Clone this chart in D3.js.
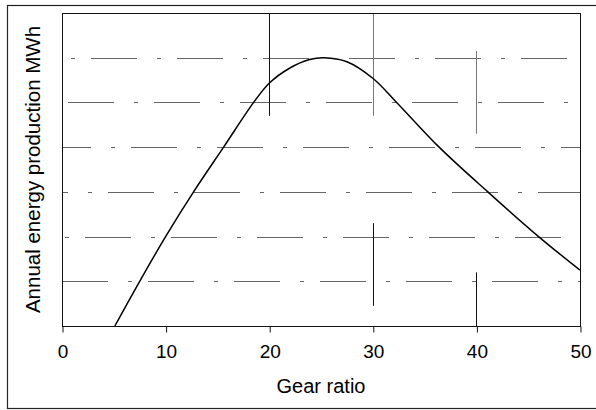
<!DOCTYPE html>
<html>
<head>
<meta charset="utf-8">
<script src="https://cdn.jsdelivr.net/npm/d3@7/dist/d3.min.js"></script>
<style>
  html, body { margin: 0; padding: 0; background: #fff; }
  svg { display: block; }
  text { font-family: Arial, "Liberation Sans", sans-serif; fill: #000; }
</style>
</head>
<body>
<svg id="chart" width="596" height="410"></svg>
<script>
// ---- data ----
const gearRatio = [5.1, 7.5, 10, 12.7, 15.6, 18.5, 20, 22, 23.9, 25.3, 27.5, 30, 32.3, 36.4, 41.1, 46.0, 50];
const energy    = [0, 1, 2, 3, 4, 5, 5.43, 5.77, 5.96, 6.0, 5.91, 5.54, 5, 4, 3, 2, 1.25];
const xTicks = [0, 10, 20, 30, 40, 50];
const yGrid  = [1, 2, 3, 4, 5, 6];
// vertical grid fragments visible in the scan (x, from, to) in data units
const vFragX  = [20, 30, 40, 30, 40];
const vFragY0 = [7, 7, 6.15, 2.3, 1.2];
const vFragY1 = [4.7, 4.7, 4.3, 0.45, 0];
const vFragDark = [true, false, false, true, true];
const xLabel = "Gear ratio";
const yLabel = "Annual energy production MWh";

// ---- layout ----
const svg = d3.select("#chart");
const m = { left: 62, top: 13, right: 580, bottom: 326 };
const x = d3.scaleLinear().domain([0, 50]).range([m.left, m.right]);
const y = d3.scaleLinear().domain([0, 7]).range([m.bottom, m.top]);

// outer frame
svg.append("rect")
  .attr("x", 7.5).attr("y", 5.5)
  .attr("width", 620).attr("height", 403)
  .attr("fill", "none").attr("stroke", "#222").attr("stroke-width", 1.2);

// horizontal gridlines (broken, as in the scan)
svg.append("g").selectAll("line").data(yGrid).join("line")
  .attr("x1", m.left).attr("x2", m.right)
  .attr("y1", d => Math.round(y(d)) + 0.5).attr("y2", d => Math.round(y(d)) + 0.5)
  .attr("stroke", "#666").attr("stroke-width", 1)
  .attr("stroke-dasharray", "46,20,4,16")
  .attr("stroke-dashoffset", (d, i) => -(i * 23) % 86);

// vertical fragments
svg.append("g").selectAll("line").data(vFragX).join("line")
  .attr("x1", d => Math.round(x(d)) + 0.5).attr("x2", d => Math.round(x(d)) + 0.5)
  .attr("y1", (d, i) => y(vFragY0[i])).attr("y2", (d, i) => y(vFragY1[i]))
  .attr("stroke", (d, i) => vFragDark[i] ? "#111" : "#777")
  .attr("stroke-width", 1);

// plot frame
svg.append("rect")
  .attr("x", m.left + 0.5).attr("y", m.top + 0.5)
  .attr("width", m.right - m.left).attr("height", m.bottom - m.top)
  .attr("fill", "none").attr("stroke", "#111").attr("stroke-width", 1);

// x axis
const xAxis = d3.axisBottom(x).tickValues(xTicks).tickSize(6).tickPadding(12).tickSizeOuter(0);
const gx = svg.append("g").attr("transform", `translate(0.5,${m.bottom + 0.5})`).call(xAxis);
gx.select(".domain").remove();
gx.selectAll("line").attr("stroke", "#111");
gx.selectAll("text").attr("font-size", 19).attr("font-family", "Arial, 'Liberation Sans', sans-serif");

// curve
const line = d3.line()
  .x((d, i) => x(gearRatio[i]))
  .y(d => y(d))
  .curve(d3.curveCatmullRom.alpha(0.5));
svg.append("path").datum(energy)
  .attr("d", line)
  .attr("fill", "none").attr("stroke", "#000").attr("stroke-width", 1.5);

// labels
svg.append("text")
  .attr("x", (m.left + m.right) / 2).attr("y", 393)
  .attr("text-anchor", "middle").attr("font-size", 20)
  .text(xLabel);
svg.append("text")
  .attr("transform", `translate(40,${(m.top + m.bottom) / 2}) rotate(-90)`)
  .attr("text-anchor", "middle").attr("font-size", 20.5)
  .text(yLabel);
</script>
</body>
</html>
